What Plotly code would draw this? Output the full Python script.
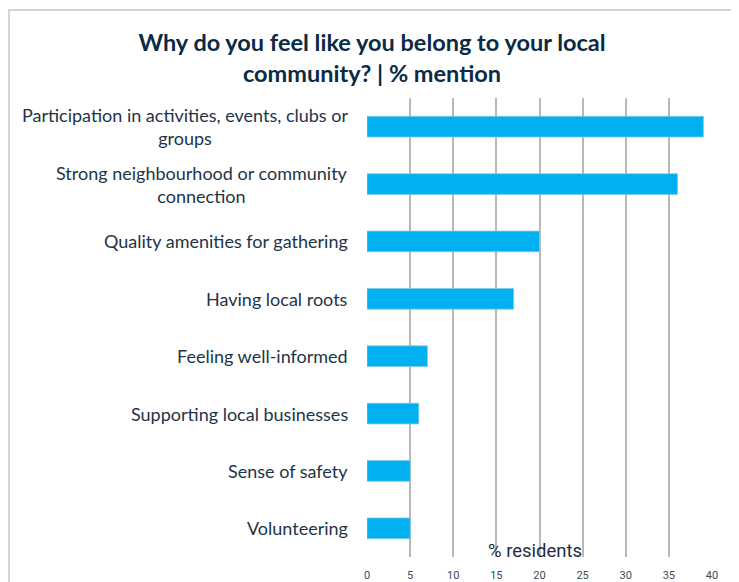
import plotly.graph_objects as go

categories = [
    "Participation in activities, events, clubs or<br>groups",
    "Strong neighbourhood or community<br>connection",
    "Quality amenities for gathering",
    "Having local roots",
    "Feeling well-informed",
    "Supporting local businesses",
    "Sense of safety",
    "Volunteering",
]
values = [39, 36, 20, 17, 7, 6, 5, 5]
x_ticks = [0, 5, 10, 15, 20, 25, 30, 35, 40]

# page has an 8px body margin; work in figure coordinates (page - 8)
OFF = 8
W, H = 731, 574
L, R, T, B = 367 - OFF, 27, 98 - OFF, 25
pw, ph = W - L - R, H - T - B


def px(xpage):
    return (xpage - OFF - L) / pw


def py(ypage):
    return (H - B - (ypage - OFF)) / ph


fig = go.Figure(go.Bar(
    x=values, y=categories, orientation="h",
    marker=dict(color="#00B0F0", line=dict(color="#7FC8E6", width=0.8)),
    width=0.36,
))

annotations = []
for c in categories:
    annotations.append(dict(
        x=px(350), xref="paper", y=c, yref="y",
        text=c, showarrow=False, xanchor="right", yanchor="middle", align="center",
        font=dict(family="Lato, sans-serif", size=18, color="#1E3448"),
    ))
annotations.append(dict(
    x=px(535), xref="paper", y=py(551), yref="paper",
    text="% residents", showarrow=False, xanchor="center", yanchor="middle",
    font=dict(family="Roboto, sans-serif", size=18.5, color="#1F2D3D"),
))

fig.update_layout(
    width=W, height=H,
    margin=dict(l=L, r=R, t=T, b=B),
    paper_bgcolor="white", plot_bgcolor="white",
    title=dict(
        text="<b>Why do you feel like you belong to your local<br>community? | % mention</b>",
        x=(372 - OFF) / W, xanchor="center", y=1 - (51 - OFF) / H, yanchor="middle",
        font=dict(family="Lato, sans-serif", size=23.5, color="#0B2A45"),
    ),
    showlegend=False,
    xaxis=dict(
        range=[0, 40], tickvals=x_ticks, showgrid=True, gridcolor="#B8B8B8", gridwidth=1.5,
        zeroline=False, showline=False, ticks="", ticklabelstandoff=10, automargin=False,
        tickfont=dict(family="Roboto, sans-serif", size=11, color="#3A4A5C"),
    ),
    yaxis=dict(
        categoryorder="array", categoryarray=categories[::-1], automargin=False,
        showticklabels=False, showgrid=False, zeroline=False, ticks="",
    ),
    annotations=annotations,
    shapes=[dict(
        type="rect", xref="paper", yref="paper",
        x0=px(9), x1=px(732),
        y0=py(600), y1=py(10),
        line=dict(color="#C8C8C8", width=1.5), fillcolor="rgba(0,0,0,0)", layer="below",
    )],
)

fig.write_html("out.html")
